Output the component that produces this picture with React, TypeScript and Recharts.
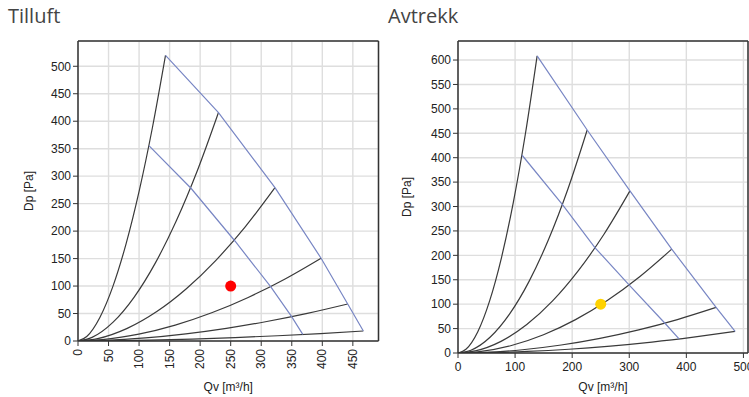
import React from "react";
import { ComposedChart, Line, Scatter, XAxis, YAxis, CartesianGrid, ReferenceLine } from "recharts";

type Pt = { q: number; p: number };

// Tilluft: system curves (black), fan limit lines (blue), operating point
const tilluftCurve1: Pt[] = [
  { q: 0, p: 0 }, { q: 14.3, p: 8.2 }, { q: 35.8, p: 42.9 }, { q: 57.3, p: 99.9 },
  { q: 78.8, p: 177.3 }, { q: 100.3, p: 273.7 }, { q: 121.8, p: 388.1 }, { q: 143.3, p: 520 },
];
const tilluftCurve2: Pt[] = [
  { q: 0, p: 0 }, { q: 23, p: 6.6 }, { q: 57.5, p: 34.3 }, { q: 92, p: 79.9 },
  { q: 126.5, p: 141.7 }, { q: 161, p: 218.8 }, { q: 195.5, p: 310.3 }, { q: 230, p: 415.8 },
];
const tilluftCurve3: Pt[] = [
  { q: 0, p: 0 }, { q: 32.3, p: 4.4 }, { q: 80.6, p: 23 }, { q: 129, p: 53.6 },
  { q: 177.4, p: 95.1 }, { q: 225.8, p: 146.8 }, { q: 274.1, p: 208.2 }, { q: 322.5, p: 279 },
];
const tilluftCurve4: Pt[] = [
  { q: 0, p: 0 }, { q: 39.8, p: 2.4 }, { q: 99.5, p: 12.4 }, { q: 159.2, p: 28.9 },
  { q: 218.9, p: 51.3 }, { q: 278.6, p: 79.3 }, { q: 338.3, p: 112.4 }, { q: 398, p: 150.6 },
];
const tilluftCurve5: Pt[] = [
  { q: 0, p: 0 }, { q: 44.2, p: 1.1 }, { q: 110.4, p: 5.6 }, { q: 176.6, p: 13 },
  { q: 242.9, p: 23 }, { q: 309.1, p: 35.5 }, { q: 375.4, p: 50.3 }, { q: 441.6, p: 67.4 },
];
const tilluftCurve6: Pt[] = [
  { q: 0, p: 0 }, { q: 46.7, p: 0.3 }, { q: 116.8, p: 1.5 }, { q: 186.9, p: 3.5 },
  { q: 257, p: 6.2 }, { q: 327, p: 9.6 }, { q: 397.1, p: 13.6 }, { q: 467.2, p: 18.2 },
];
const tilluftOuter: Pt[] = [
  { q: 143.3, p: 520 }, { q: 230, p: 415.8 }, { q: 322.5, p: 279 },
  { q: 398, p: 150.6 }, { q: 441.6, p: 67.4 }, { q: 467.2, p: 18.2 },
];
const tilluftInner: Pt[] = [
  { q: 116.5, p: 355 }, { q: 185, p: 278 }, { q: 256.9, p: 182 },
  { q: 315.4, p: 99 }, { q: 349.8, p: 44.3 }, { q: 368, p: 12 },
];
const tilluftPoint: Pt[] = [{ q: 250, p: 100 }];

// Avtrekk
const avtrekkCurve1: Pt[] = [
  { q: 0, p: 0 }, { q: 13.9, p: 7.7 }, { q: 34.7, p: 43.7 }, { q: 55.4, p: 106.7 },
  { q: 76.2, p: 195.5 }, { q: 97, p: 309.1 }, { q: 117.8, p: 447 }, { q: 138.6, p: 608.7 },
];
const avtrekkCurve2: Pt[] = [
  { q: 0, p: 0 }, { q: 22.6, p: 5.7 }, { q: 56.6, p: 32.8 }, { q: 90.5, p: 80.1 },
  { q: 124.5, p: 146.7 }, { q: 158.4, p: 231.9 }, { q: 192.4, p: 335.4 }, { q: 226.3, p: 456.7 },
];
const avtrekkCurve3: Pt[] = [
  { q: 0, p: 0 }, { q: 30.1, p: 4.2 }, { q: 75.3, p: 23.8 }, { q: 120.5, p: 58.2 },
  { q: 165.7, p: 106.6 }, { q: 210.8, p: 168.6 }, { q: 256, p: 243.8 }, { q: 301.2, p: 332 },
];
const avtrekkCurve4: Pt[] = [
  { q: 0, p: 0 }, { q: 37.4, p: 2.7 }, { q: 93.6, p: 15.3 }, { q: 149.8, p: 37.3 },
  { q: 205.9, p: 68.3 }, { q: 262.1, p: 108 }, { q: 318.2, p: 156.2 }, { q: 374.4, p: 212.7 },
];
const avtrekkCurve5: Pt[] = [
  { q: 0, p: 0 }, { q: 45.2, p: 1.2 }, { q: 113, p: 6.7 }, { q: 180.8, p: 16.4 },
  { q: 248.7, p: 30 }, { q: 316.5, p: 47.4 }, { q: 384.3, p: 68.5 }, { q: 452.1, p: 93.3 },
];
const avtrekkCurve6: Pt[] = [
  { q: 0, p: 0 }, { q: 48.5, p: 0.6 }, { q: 121.4, p: 3.2 }, { q: 194.2, p: 7.7 },
  { q: 267, p: 14.2 }, { q: 339.8, p: 22.4 }, { q: 412.6, p: 32.5 }, { q: 485.4, p: 44.2 },
];
const avtrekkOuter: Pt[] = [
  { q: 138.6, p: 608.7 }, { q: 226.3, p: 456.7 }, { q: 301.2, p: 332 },
  { q: 374.4, p: 212.7 }, { q: 452.1, p: 93.3 }, { q: 485.4, p: 44.2 },
];
const avtrekkInner: Pt[] = [
  { q: 112.3, p: 405 }, { q: 183, p: 304 }, { q: 239.8, p: 216 },
  { q: 300, p: 139 }, { q: 362.5, p: 61 }, { q: 387.2, p: 28.8 },
];
const avtrekkPoint: Pt[] = [{ q: 250, p: 100 }];

const tilluftXTicks = [0, 50, 100, 150, 200, 250, 300, 350, 400, 450];
const tilluftYTicks = [0, 50, 100, 150, 200, 250, 300, 350, 400, 450, 500];
const avtrekkXTicks = [0, 100, 200, 300, 400, 500];
const avtrekkYTicks = [0, 50, 100, 150, 200, 250, 300, 350, 400, 450, 500, 550, 600];

const FONT = "'Liberation Sans', Arial, sans-serif";
const TXT = "#222";
const BLUE = "#7886c4";
const DARK = "#333";

const RotTick = (props: any) => {
  const { x, y, payload } = props;
  return (
    <text x={x} y={y} transform={`rotate(-90 ${x} ${y})`} textAnchor="end" dy="0.35em"
      fontSize={12} fill={TXT} fontFamily={FONT}>
      {payload.value}
    </text>
  );
};

type PanelProps = {
  width: number;
  margin: { top: number; right: number; bottom: number; left: number };
  xHeight: number;
  xMax: number;
  yMax: number;
  xTicks: number[];
  yTicks: number[];
  rotated: boolean;
  curves: Pt[][];
  blue: Pt[][];
  point: Pt[];
  pointColor: string;
  yLabelOffset: number;
  xLabelOffset: number;
};

function Panel(p: PanelProps) {
  const tickStyle = { fontSize: 12, fill: TXT, fontFamily: FONT };
  return (
    <ComposedChart width={p.width} height={397} margin={p.margin}>
      <CartesianGrid stroke="#dedede" strokeWidth={1.4} />
      <XAxis type="number" dataKey="q" domain={[0, p.xMax]} ticks={p.xTicks} interval={0}
        height={p.xHeight} allowDataOverflow
        axisLine={{ stroke: DARK, strokeWidth: 1.5 }} tickLine={{ stroke: DARK }} tickSize={5}
        tickMargin={p.rotated ? 3 : 4}
        tick={p.rotated ? <RotTick /> : tickStyle}
        label={{ value: "Qv [m³/h]", position: "insideBottom", offset: p.xLabelOffset,
          style: { fontSize: 12, fill: TXT, fontFamily: FONT } }} />
      <YAxis type="number" dataKey="p" domain={[0, p.yMax]} ticks={p.yTicks} interval={0}
        width={78} allowDataOverflow
        axisLine={{ stroke: DARK, strokeWidth: 1.5 }} tickLine={{ stroke: DARK }} tickSize={5}
        tickMargin={2} tick={tickStyle}
        label={{ value: "Dp [Pa]", angle: -90, position: "insideLeft", offset: p.yLabelOffset,
          textAnchor: "middle", style: { textAnchor: "middle", fontSize: 12, fill: TXT, fontFamily: FONT } }} />
      <ReferenceLine y={p.yMax} stroke={DARK} strokeWidth={1.5} />
      <ReferenceLine x={p.xMax} stroke={DARK} strokeWidth={1.5} />
      {p.curves.map((c, i) => (
        <Line key={"c" + i} data={c} dataKey="p" type="monotone" stroke="#3a3a3a" strokeWidth={1.2}
          dot={false} activeDot={false} isAnimationActive={false} />
      ))}
      {p.blue.map((c, i) => (
        <Line key={"b" + i} data={c} dataKey="p" type="linear" stroke={BLUE} strokeWidth={1.2}
          dot={false} activeDot={false} isAnimationActive={false} />
      ))}
      <Scatter data={p.point} dataKey="p" fill={p.pointColor} isAnimationActive={false}
        shape={(s: any) => <circle cx={s.cx} cy={s.cy} r={5.5} fill={p.pointColor} />} />
    </ComposedChart>
  );
}

export default function App() {
  const titleStyle: React.CSSProperties = {
    position: "absolute", top: 4, fontSize: 20, lineHeight: "24px",
    fontFamily: "'Open Sans', 'Noto Sans', sans-serif", color: "#444",
  };
  return (
    <div style={{ position: "absolute", left: 0, top: 0, width: 749, height: 397, overflow: "hidden", background: "#fff" }}>
      <div style={{ ...titleStyle, left: 8 }}>Tilluft</div>
      <div style={{ ...titleStyle, left: 388 }}>Avtrekk</div>
      <div style={{ position: "absolute", left: 0, top: 0 }}>
        <Panel width={380} margin={{ top: 41, right: 1.5, bottom: 5, left: 0 }} xHeight={51}
          xMax={492} yMax={546} xTicks={tilluftXTicks} yTicks={tilluftYTicks} rotated
          curves={[tilluftCurve1, tilluftCurve2, tilluftCurve3, tilluftCurve4, tilluftCurve5, tilluftCurve6]}
          blue={[tilluftOuter, tilluftInner]} point={tilluftPoint} pointColor="#ff0000"
          yLabelOffset={29} xLabelOffset={1} />
      </div>
      <div style={{ position: "absolute", left: 380, top: 0 }}>
        <Panel width={369} margin={{ top: 41, right: 1, bottom: 4, left: 0 }} xHeight={40}
          xMax={508} yMax={639} xTicks={avtrekkXTicks} yTicks={avtrekkYTicks} rotated={false}
          curves={[avtrekkCurve1, avtrekkCurve2, avtrekkCurve3, avtrekkCurve4, avtrekkCurve5, avtrekkCurve6]}
          blue={[avtrekkOuter, avtrekkInner]} point={avtrekkPoint} pointColor="#ffd200"
          yLabelOffset={27} xLabelOffset={2} />
      </div>
    </div>
  );
}
